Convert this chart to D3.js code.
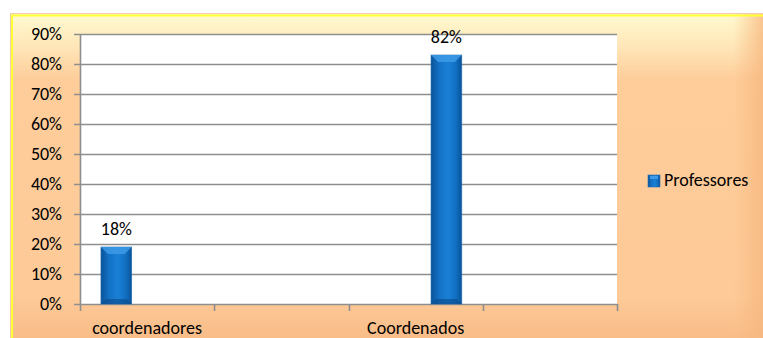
<!DOCTYPE html>
<html>
<head>
<meta charset="utf-8">
<script src="https://cdn.jsdelivr.net/npm/d3@7"></script>
<style>
  html, body { margin: 0; padding: 0; background: #ffffff; }
  svg { display: block; }
  text { font-family: Carlito, Calibri, Lato, "Open Sans", sans-serif; fill: #000; }
</style>
</head>
<body>
<svg id="chart" width="763" height="338"></svg>
<script>
// Category slots along the x axis (labels shown on every other slot)
const categoryLabels = ["coordenadores", "", "Coordenados", ""];
// Cluster positions inside each category
const clusterSlots = [0, 1, 2];
// Series "Professores": category slot, cluster slot and value
const seriesName = "Professores";
const barCategoryIndex = [0, 2];
const barSlots = [0, 2];
const barValues = [0.18, 0.82];
// Value axis ticks
const yTicks = [0, 0.1, 0.2, 0.3, 0.4, 0.5, 0.6, 0.7, 0.8, 0.9];

const svg = d3.select("#chart");
const W = 763, H = 338;
const plot = { left: 80, right: 617, top: 34, bottom: 304 };
const fontSize = 18;

const defs = svg.append("defs");

// Chart area background: peach with a pale yellow top
const bg = defs.append("linearGradient").attr("id", "bgV").attr("x1", 0).attr("y1", 0).attr("x2", 0).attr("y2", 1);
bg.append("stop").attr("offset", "0%").attr("stop-color", "#fffbd0");
bg.append("stop").attr("offset", "10%").attr("stop-color", "#ffe6b8");
bg.append("stop").attr("offset", "20%").attr("stop-color", "#fecd9a");
bg.append("stop").attr("offset", "86%").attr("stop-color", "#fdca98");
bg.append("stop").attr("offset", "100%").attr("stop-color", "#f8bb86");

const bgR = defs.append("linearGradient").attr("id", "bgH").attr("x1", 0).attr("y1", 0).attr("x2", 1).attr("y2", 0);
bgR.append("stop").attr("offset", "0%").attr("stop-color", "#f7b77f").attr("stop-opacity", 0);
bgR.append("stop").attr("offset", "96%").attr("stop-color", "#f7b77f").attr("stop-opacity", 0);
bgR.append("stop").attr("offset", "100%").attr("stop-color", "#f7b77f").attr("stop-opacity", 0.8);

// Bar fill: darker edges, brighter middle
const barG = defs.append("linearGradient").attr("id", "barG").attr("x1", 0).attr("y1", 0).attr("x2", 1).attr("y2", 0);
barG.append("stop").attr("offset", "0%").attr("stop-color", "#0a5298");
barG.append("stop").attr("offset", "25%").attr("stop-color", "#1370c4");
barG.append("stop").attr("offset", "55%").attr("stop-color", "#1a80d6");
barG.append("stop").attr("offset", "80%").attr("stop-color", "#1170c2");
barG.append("stop").attr("offset", "100%").attr("stop-color", "#0a5298");

const fx = 10, fy = 13;
svg.append("rect").attr("x", fx + 0.5).attr("y", fy + 0.5)
  .attr("width", W - fx + 5).attr("height", H - fy + 5)
  .attr("fill", "url(#bgV)");
svg.append("rect").attr("x", fx + 0.5).attr("y", fy + 0.5)
  .attr("width", W - fx).attr("height", H - fy + 5)
  .attr("fill", "url(#bgH)");
// frame border: thin pink outer edge and yellow inner line
svg.append("rect").attr("x", fx + 0.5).attr("y", fy + 0.5)
  .attr("width", W - fx + 5).attr("height", H - fy + 5)
  .attr("fill", "none").attr("stroke", "#f3c8b4").attr("stroke-width", 1);
svg.append("rect").attr("x", fx + 2).attr("y", fy + 2.5)
  .attr("width", W - fx + 5).attr("height", H - fy + 5)
  .attr("fill", "none").attr("stroke", "#ffff33").attr("stroke-width", 2);

// Scales
const x0 = d3.scaleBand().domain(d3.range(categoryLabels.length)).range([plot.left, plot.right]).padding(0);
const x1 = d3.scaleBand().domain(clusterSlots).range([0, x0.bandwidth()]).paddingInner(0).paddingOuter(0.68);
const y = d3.scaleLinear().domain([0, 0.9]).range([plot.bottom, plot.top]);

// Plot area
svg.append("rect").attr("x", plot.left).attr("y", plot.top)
  .attr("width", plot.right - plot.left).attr("height", plot.bottom - plot.top)
  .attr("fill", "#ffffff");

// Gridlines
svg.append("g").selectAll("line").data(yTicks).join("line")
  .attr("x1", plot.left - 6).attr("x2", plot.right)
  .attr("y1", d => Math.round(y(d)) + 0.5).attr("y2", d => Math.round(y(d)) + 0.5)
  .attr("stroke", "#8e8e8e").attr("stroke-width", 1.6);

// Y axis line
svg.append("line").attr("x1", plot.left + 0.5).attr("x2", plot.left + 0.5)
  .attr("y1", plot.top).attr("y2", plot.bottom + 1)
  .attr("stroke", "#8e8e8e").attr("stroke-width", 1.6);

// Y tick labels
svg.append("g").selectAll("text").data(yTicks).join("text")
  .attr("x", 62).attr("y", d => y(d) + 6)
  .attr("text-anchor", "end").attr("font-size", fontSize)
  .text(d => d3.format(".0%")(d));

// X axis tick marks at band boundaries
const boundaries = x0.domain().map(i => x0(i)).concat([plot.right]);
svg.append("g").selectAll("line").data(boundaries).join("line")
  .attr("x1", d => Math.round(d) + 0.5).attr("x2", d => Math.round(d) + 0.5)
  .attr("y1", plot.bottom).attr("y2", plot.bottom + 7)
  .attr("stroke", "#8e8e8e").attr("stroke-width", 1.6);

// X category labels
svg.append("g").selectAll("text").data(x0.domain()).join("text")
  .attr("x", i => x0(i) + x0.bandwidth() / 2).attr("y", 334)
  .attr("text-anchor", "middle").attr("font-size", fontSize)
  .text(i => categoryLabels[i]);

// Bars
const bars = barValues.map((v, i) => ({ cat: barCategoryIndex[i], slot: barSlots[i], value: v }));
const bg2 = svg.append("g");
bars.forEach(b => {
  const bx = x0(b.cat) + x1(b.slot);
  const bw = x1.bandwidth();
  const top = y(b.value) - 3;
  const bot = y(0);
  bg2.append("rect").attr("x", bx).attr("y", top).attr("width", bw).attr("height", bot - top)
    .attr("fill", "url(#barG)").attr("stroke", "#2a6fb0").attr("stroke-width", 0.6);
  // top bevel
  const bev = 7;
  bg2.append("path")
    .attr("d", `M${bx},${top} L${bx + bw},${top} L${bx + bw - bev},${top + bev} L${bx + bev},${top + bev} Z`)
    .attr("fill", "#3d9ae6").attr("opacity", 0.85);
  // bottom bevel
  bg2.append("path")
    .attr("d", `M${bx},${bot} L${bx + bw},${bot} L${bx + bw - 5},${bot - 5} L${bx + 5},${bot - 5} Z`)
    .attr("fill", "#094a8a").attr("opacity", 0.6);
  // data label
  bg2.append("text").attr("x", bx + bw / 2).attr("y", y(b.value) - 15)
    .attr("text-anchor", "middle").attr("font-size", fontSize)
    .text(d3.format(".0%")(b.value));
});

// Legend
const lg = svg.append("g").attr("transform", "translate(648,175)");
lg.append("rect").attr("width", 12).attr("height", 12).attr("fill", "url(#barG)")
  .attr("stroke", "#2a6fb0").attr("stroke-width", 0.6);
lg.append("rect").attr("x", 2).attr("y", 1).attr("width", 8).attr("height", 3).attr("fill", "#3d9ae6");
lg.append("text").attr("x", 16).attr("y", 11).attr("font-size", fontSize).text(seriesName);
</script>
</body>
</html>
